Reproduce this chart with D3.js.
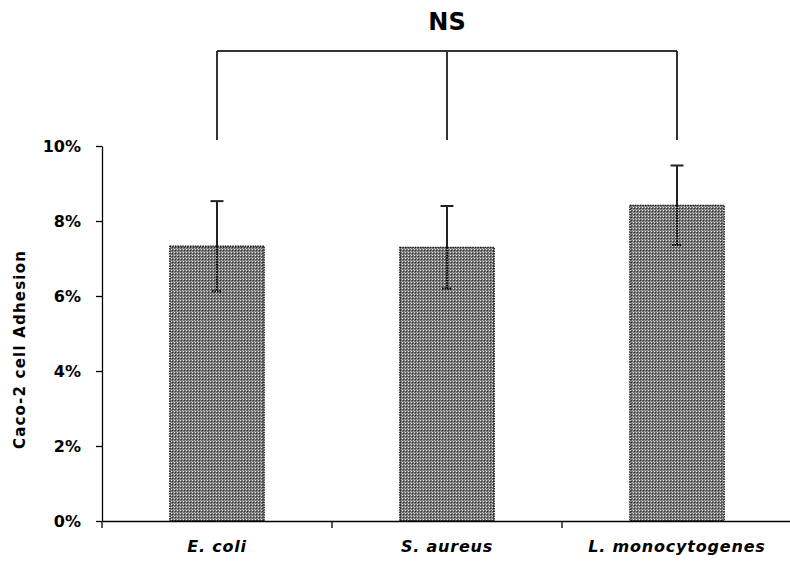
<!DOCTYPE html>
<html>
<head>
<meta charset="utf-8">
<script src="https://cdn.jsdelivr.net/npm/d3@7"></script>
<style>
  body { margin: 0; background: #fff; }
  svg { display: block; }
  text { font-family: "DejaVu Sans", Verdana, sans-serif; font-weight: bold; fill: #000; }
</style>
</head>
<body>
<script>
// data
var categories = ["E. coli", "S. aureus", "L. monocytogenes"];
var adhesion = [0.0733, 0.0730, 0.0842];
var errors = [0.0120, 0.0110, 0.0106];
var yTicks = [0, 0.02, 0.04, 0.06, 0.08, 0.10];
var yLabel = "Caco-2 cell Adhesion";
var bracketLabel = "NS";

var width = 790, height = 561;

var svg = d3.select("body").append("svg")
  .attr("width", width)
  .attr("height", height);

// stippled fill like the original bars
var defs = svg.append("defs");
var pat = defs.append("pattern")
  .attr("id", "stipple")
  .attr("patternUnits", "userSpaceOnUse")
  .attr("width", 3)
  .attr("height", 3);
pat.append("rect").attr("width", 3).attr("height", 3).attr("fill", "#737373");
pat.append("rect").attr("x", 0).attr("y", 0).attr("width", 1).attr("height", 1).attr("fill", "#e6e6e6");
pat.append("rect").attr("x", 1).attr("y", 1).attr("width", 1).attr("height", 1).attr("fill", "#333");
pat.append("rect").attr("x", 2).attr("y", 2).attr("width", 1).attr("height", 1).attr("fill", "#a8a8a8");

// scales
var x = d3.scaleBand()
  .domain(categories)
  .range([102, 792])
  .padding(0);

var y = d3.scaleLinear()
  .domain([0, 0.10])
  .range([521, 146]);

var barW = x.bandwidth() * 0.41;

// bars
svg.selectAll(".bar")
  .data(categories)
  .enter().append("rect")
  .attr("class", "bar")
  .attr("x", function(d) { return x(d) + x.bandwidth() / 2 - barW / 2; })
  .attr("y", function(d, i) { return y(adhesion[i]); })
  .attr("width", barW)
  .attr("height", function(d, i) { return y(0) - y(adhesion[i]); })
  .attr("fill", "url(#stipple)")
  .attr("stroke", "#000")
  .attr("stroke-width", 1.2)
  .attr("stroke-dasharray", "1.5,1");

// error bars: solid above the bar, dotted inside it
var cx = function(d) { return x(d) + x.bandwidth() / 2; };
var err = svg.selectAll(".err")
  .data(categories)
  .enter().append("g")
  .attr("class", "err");

err.append("line")
  .attr("x1", cx).attr("x2", cx)
  .attr("y1", function(d, i) { return y(adhesion[i] + errors[i]); })
  .attr("y2", function(d, i) { return y(adhesion[i]); })
  .attr("stroke", "#222").attr("stroke-width", 2);
err.append("line")
  .attr("x1", function(d) { return cx(d) - 6.5; })
  .attr("x2", function(d) { return cx(d) + 6.5; })
  .attr("y1", function(d, i) { return y(adhesion[i] + errors[i]); })
  .attr("y2", function(d, i) { return y(adhesion[i] + errors[i]); })
  .attr("stroke", "#222").attr("stroke-width", 2);
err.append("line")
  .attr("x1", cx).attr("x2", cx)
  .attr("y1", function(d, i) { return y(adhesion[i]); })
  .attr("y2", function(d, i) { return y(adhesion[i] - errors[i]); })
  .attr("stroke", "#000").attr("stroke-width", 2)
  .attr("stroke-dasharray", "1.5,1");
err.append("line")
  .attr("x1", function(d) { return cx(d) - 5; })
  .attr("x2", function(d) { return cx(d) + 5; })
  .attr("y1", function(d, i) { return y(adhesion[i] - errors[i]); })
  .attr("y2", function(d, i) { return y(adhesion[i] - errors[i]); })
  .attr("stroke", "#000").attr("stroke-width", 2)
  .attr("stroke-dasharray", "1.5,1");

// y axis
var yAxis = svg.append("g")
  .attr("transform", "translate(102,0)")
  .call(d3.axisLeft(y).tickValues(yTicks).tickFormat(d3.format(".0%"))
    .tickSize(6).tickPadding(15).tickSizeOuter(0));
yAxis.select(".domain").attr("stroke", "#000").attr("stroke-width", 1.3);
yAxis.selectAll(".tick line").attr("stroke", "#000").attr("stroke-width", 1.3);
yAxis.selectAll(".tick text")
  .style("font-family", "'DejaVu Sans', Verdana, sans-serif")
  .style("font-weight", "bold")
  .style("font-size", "16px")
  .attr("fill", "#000");

// x axis: labels at band centres, ticks at band boundaries
var xAxis = svg.append("g")
  .attr("transform", "translate(0,521)")
  .call(d3.axisBottom(x).tickSize(0).tickPadding(20).tickSizeOuter(0));
xAxis.select(".domain").attr("stroke", "#000").attr("stroke-width", 1.3);
xAxis.selectAll(".tick text")
  .style("font-family", "'DejaVu Sans', Verdana, sans-serif")
  .style("font-weight", "bold")
  .style("font-style", "italic")
  .style("font-size", "16px")
  .style("letter-spacing", "0.8px")
  .attr("fill", "#000");

var bounds = categories.map(function(d) { return x(d); });
xAxis.selectAll(".bound")
  .data(bounds)
  .enter().append("line")
  .attr("class", "bound")
  .attr("x1", function(d) { return d; })
  .attr("x2", function(d) { return d; })
  .attr("y1", 0).attr("y2", 7)
  .attr("stroke", "#000").attr("stroke-width", 1.3);

// y axis title
svg.append("text")
  .attr("transform", "translate(25," + ((y(0) + y(0.10)) / 2 + 16) + ") rotate(-90)")
  .attr("text-anchor", "middle")
  .style("font-size", "15px")
  .style("letter-spacing", "1.2px")
  .text(yLabel);

// NS bracket across the three bars
var bTop = 51, bBottom = 140;
var centres = categories.map(cx);
svg.append("line")
  .attr("x1", centres[0]).attr("x2", centres[centres.length - 1])
  .attr("y1", bTop).attr("y2", bTop)
  .attr("stroke", "#333").attr("stroke-width", 2);
svg.selectAll(".bleg")
  .data(centres)
  .enter().append("line")
  .attr("class", "bleg")
  .attr("x1", function(d) { return d; })
  .attr("x2", function(d) { return d; })
  .attr("y1", bTop).attr("y2", bBottom)
  .attr("stroke", "#333").attr("stroke-width", 2);

svg.append("text")
  .attr("x", centres[1])
  .attr("y", 30)
  .attr("text-anchor", "middle")
  .style("font-size", "24px")
  .text(bracketLabel);
</script>
</body>
</html>
